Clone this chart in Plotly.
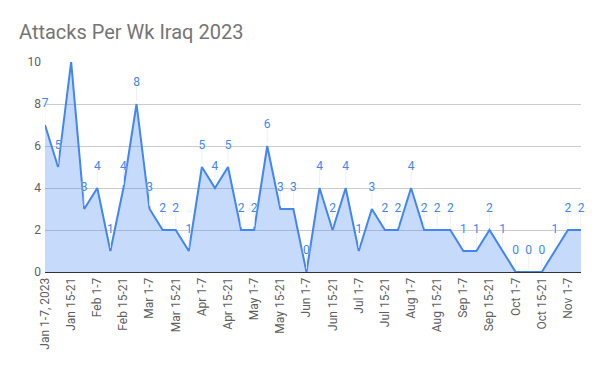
import plotly.graph_objects as go

months = ["Jan", "Feb", "Mar", "Apr", "May", "Jun", "Jul", "Aug", "Sep", "Oct", "Nov"]
month_end = {"Jan": 31, "Feb": 28, "Mar": 31, "Apr": 30, "May": 31, "Jun": 30,
             "Jul": 31, "Aug": 31, "Sep": 30, "Oct": 31, "Nov": 30}
categories = []
for m in months:
    for rng in ["1-7", "8-14", "15-21", "22-%d" % month_end[m]]:
        categories.append("%s %s" % (m, rng))
categories = categories[:42]
categories[0] = "Jan 1-7, 2023"

attacks = [7, 5, 10, 3, 4, 1, 4, 8, 3, 2, 2, 1, 5, 4, 5, 2, 2, 6, 3, 3,
           0, 4, 2, 4, 1, 3, 2, 2, 4, 2, 2, 2, 1, 1, 2, 1, 0, 0, 0, 1, 2, 2]

tick_labels = categories[::2]
y_ticks = [0, 2, 4, 6, 8, 10]
y_max = 10
# labels of points at the axis top fall outside the chart area (not shown in the original)
point_labels = [str(v) if v < y_max else "" for v in attacks]

fig = go.Figure()
fig.add_trace(go.Scatter(
    x=categories, y=attacks, mode="lines",
    line=dict(color="#4285F4", width=2),
    fill="tozeroy", fillcolor="rgba(66,133,244,0.3)",
    hoverinfo="x+y",
))
# data labels drawn on an overlaid axis shifted up by one unit (label sits above point)
fig.add_trace(go.Scatter(
    x=categories, y=attacks, mode="text", yaxis="y2",
    text=point_labels, textposition="middle center",
    textfont=dict(family="Roboto", size=12, color="#4285F4",
                  shadow="0px 0px 2px white"),
    error_y=dict(type="data", symmetric=False, array=[0] * len(attacks),
                 arrayminus=[0.85] * len(attacks), color="rgba(238,238,238,0.9)",
                 thickness=1, width=0),
    cliponaxis=False, hoverinfo="skip",
))

fig.update_layout(
    width=600, height=371,
    margin=dict(l=45, r=19, t=62, b=99),
    paper_bgcolor="white", plot_bgcolor="white",
    showlegend=False,
    title=dict(text="Attacks Per Wk Iraq 2023", x=19/600, xanchor="left",
               y=1-32/371, yanchor="middle",
               font=dict(family="Roboto", size=20, color="#757575")),
    font=dict(family="Roboto", size=12, color="#5f5f5f"),
    xaxis=dict(
        type="category", range=[0, 41], automargin=False,
        tickmode="array", tickvals=tick_labels, ticktext=tick_labels,
        tickangle=-90, showgrid=False, showline=True, linecolor="#333333", linewidth=1,
        tickfont=dict(family="Roboto", size=12, color="#5f5f5f"), ticks="",
    ),
    yaxis=dict(
        range=[0, y_max], tickvals=y_ticks, showgrid=True, gridcolor="#cccccc",
        zeroline=False, ticks="", automargin=False, ticklabelstandoff=3,
        tickfont=dict(family="Roboto", size=12, color="#5f5f5f"),
    ),
    yaxis2=dict(overlaying="y", range=[-1, y_max - 1], autorange=False, visible=False,
                showgrid=False, automargin=False),
)

fig.write_html("out.html", config={"displayModeBar": False},
               post_script="document.body.style.margin='0';")
